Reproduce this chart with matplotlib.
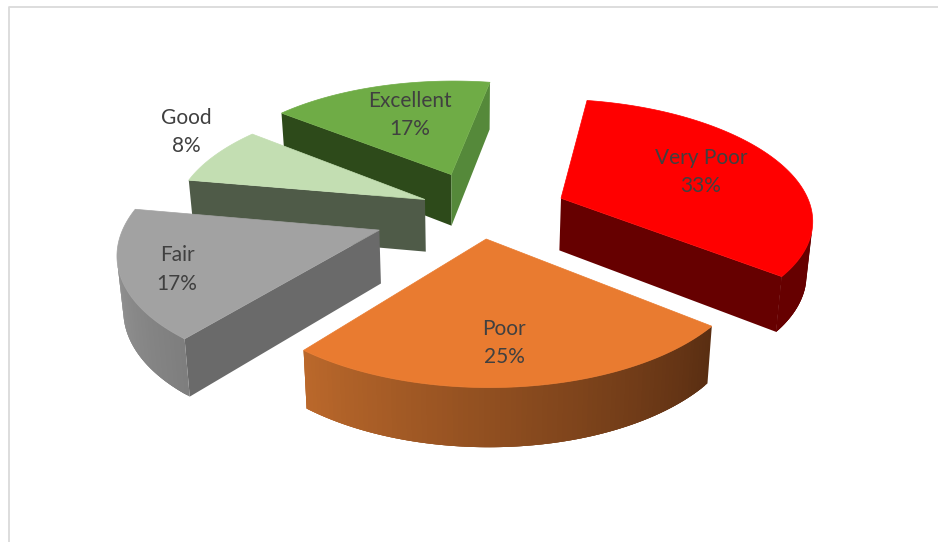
import numpy as np
import matplotlib
matplotlib.use("Agg")
import matplotlib.pyplot as plt
from matplotlib.collections import PolyCollection
from matplotlib.colors import to_rgb
from matplotlib.patches import Polygon

plt.rcParams["font.family"] = ["Lato", "DejaVu Sans"]

# Pie content, clockwise from the first slice
categories = ["Very Poor", "Poor", "Fair", "Good", "Excellent"]
percentages = [33, 25, 17, 8, 17]

# Radial offset of each slice and a small sideways shift, in pie radii
explode = [0.33, 0.226, 0.435, 0.255, 0.354]
shift_x = [0.0, -0.022, -0.006, -0.010, -0.014]

# Top colour, radial wall colour, rim colours at the slice's start and end angle
top_colors = ["#FF0000", "#E97B30", "#A2A2A2", "#C3DEB2", "#6FAC46"]
start_wall = ["#660000", "#5E3014", "#6A6A6A", "#4F5B48", "#2D4A1A"]
end_wall = ["#660000", "#5E3014", "#9C9C9C", "#4F5B48", "#55893A"]
rim_from = ["#660000", "#5A2E12", "#7E7E7E", "#4F5B48", "#55893A"]
rim_to = ["#660000", "#BA682B", "#9E9E9E", "#4F5B48", "#55893A"]

# Label anchors in figure pixels
label_xy = [(701, 172), (504, 343), (177, 269.5), (186, 132), (410, 115)]

# Camera set-up of the tilted pie
START_DEG = 280.0
CX, CY = 470.0, 220.0
RADIUS_X, RADIUS_Y = 253.6, 120.0
DEPTH = 53.0
PERSPECTIVE = 800.0
PIE_CENTER = (0.06, -0.07)
TAPER = 0.018


def project(x, y, z):
    """Map pie coordinates (radius units, z=0 top, z=1 bottom) to pixels."""
    x, y = np.asarray(x, float), np.asarray(y, float)
    yy = RADIUS_Y * y
    s = 1.0 / (1.0 - yy / PERSPECTIVE)
    px = CX + RADIUS_X * x * s * (1.0 - TAPER * z)
    py = CY + yy * s + DEPTH * s ** 0.62 * z
    return np.column_stack([px, py])


def facing(quad):
    """Front faces wind negatively on the y-down pixel grid."""
    x, y = quad[:, 0], quad[:, 1]
    return np.sum(x * np.roll(y, -1) - np.roll(x, -1) * y) < 0


fig = plt.figure(figsize=(9.38, 5.42), dpi=100)
ax = fig.add_axes([0, 0, 1, 1])
ax.set_xlim(0, 938)
ax.set_ylim(542, 0)
ax.axis("off")

# Chart frame: only the top and left sides show
ax.plot([9, 9, 938], [542, 6.7, 6.7], color="#DADADA", lw=1.3, zorder=0)

spans = np.array(percentages) / sum(percentages) * 360.0
starts = START_DEG + np.concatenate([[0], np.cumsum(spans)[:-1]])
mids = starts + spans / 2

# Paint the far slices first
for i in np.argsort(np.sin(np.radians(mids))):
    th = np.radians(np.linspace(starts[i], starts[i] + spans[i], 91))
    m = np.radians(mids[i])
    ax_x = PIE_CENTER[0] + explode[i] * np.cos(m) + shift_x[i]
    ax_y = PIE_CENTER[1] + explode[i] * np.sin(m)
    rim_x, rim_y = ax_x + np.cos(th), ax_y + np.sin(th)

    rim_top, rim_bot = project(rim_x, rim_y, 0), project(rim_x, rim_y, 1)
    apex_top = project([ax_x], [ax_y], 0)[0]
    apex_bot = project([ax_x], [ax_y], 1)[0]

    quads, colors = [], []
    # Radial walls
    q = np.array([apex_top, rim_top[0], rim_bot[0], apex_bot])
    if facing(q):
        quads.append(q)
        colors.append(to_rgb(start_wall[i]))
    q = np.array([rim_top[-1], apex_top, apex_bot, rim_bot[-1]])
    if facing(q):
        quads.append(q)
        colors.append(to_rgb(end_wall[i]))
    # Curved rim in overlapping strips, so no background shows at the seams
    c0, c1 = np.array(to_rgb(rim_from[i])), np.array(to_rgb(rim_to[i]))
    last = len(th) - 1
    for j in range(last):
        q = np.array([rim_top[j], rim_top[j + 1], rim_bot[j + 1], rim_bot[j]])
        if facing(q):
            k = min(j + 3, last)
            strip = np.vstack([rim_top[j:k + 1], rim_bot[j:k + 1][::-1]])
            quads.append(strip)
            colors.append(tuple(c0 + (c1 - c0) * j / (last - 1)))
    ax.add_collection(PolyCollection(quads, facecolors=colors, edgecolors="none",
                                     linewidths=0, zorder=1))
    ax.add_patch(Polygon(np.vstack([apex_top, rim_top]), closed=True,
                         facecolor=top_colors[i], edgecolor=top_colors[i],
                         linewidth=0.5, zorder=1))

for name, pct, (x, y) in zip(categories, percentages, label_xy):
    ax.text(x, y, f"{name}\n{pct}%", ha="center", va="center", fontsize=15,
            color="#404040", linespacing=1.52, zorder=2)

fig.savefig("out.png", dpi=100)
